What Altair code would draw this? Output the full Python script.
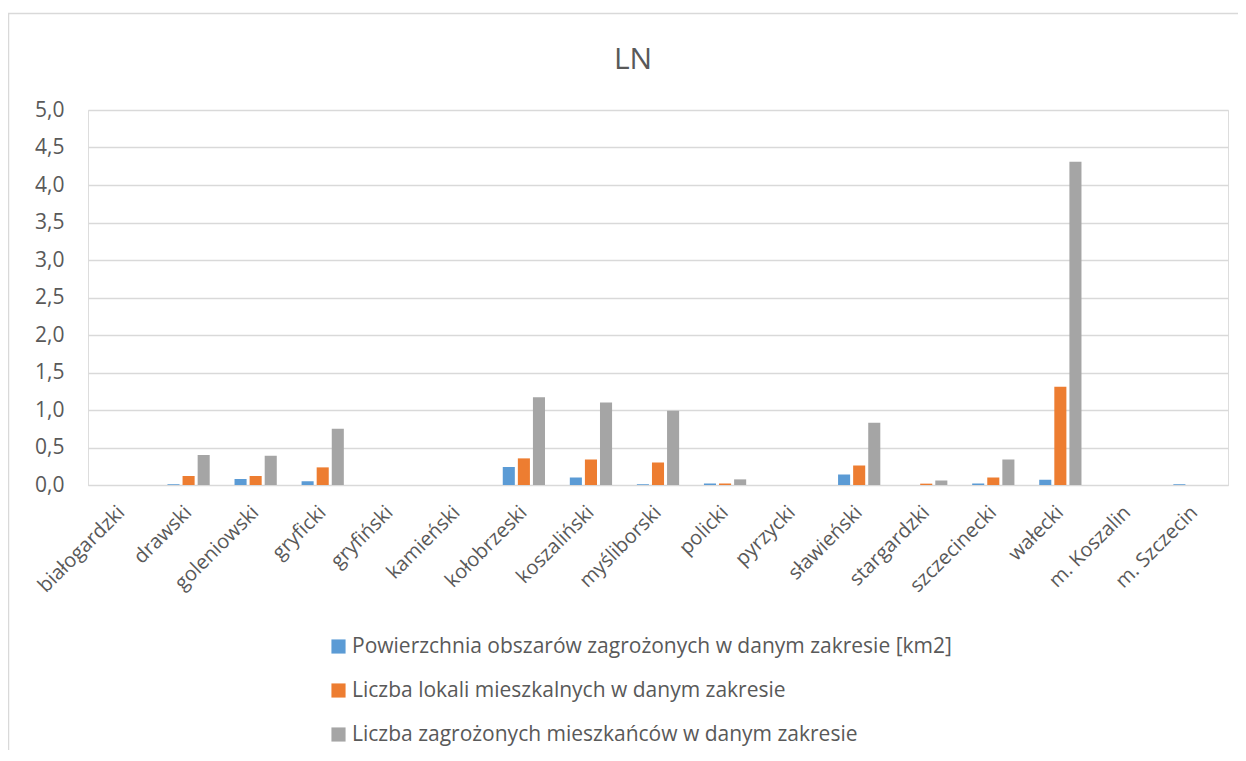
import altair as alt
import pandas as pd

categories = ["białogardzki", "drawski", "goleniowski", "gryficki", "gryfiński",
              "kamieński", "kołobrzeski", "koszaliński", "myśliborski", "policki",
              "pyrzycki", "sławieński", "stargardzki", "szczecinecki", "wałecki",
              "m. Koszalin", "m. Szczecin"]

series_names = ["Powierzchnia obszarów zagrożonych w danym zakresie [km2]",
                "Liczba lokali mieszkalnych w danym zakresie",
                "Liczba zagrożonych mieszkańców w danym zakresie"]

powierzchnia = [0.0, 0.01, 0.08, 0.05, 0.0, 0.0, 0.24, 0.10, 0.01, 0.02, 0.0, 0.14, 0.0, 0.02, 0.07, 0.0, 0.01]
lokale = [0.0, 0.12, 0.12, 0.235, 0.0, 0.0, 0.355, 0.34, 0.30, 0.02, 0.0, 0.26, 0.018, 0.10, 1.31, 0.0, 0.0]
mieszkancy = [0.0, 0.40, 0.39, 0.75, 0.0, 0.0, 1.17, 1.10, 0.99, 0.075, 0.0, 0.83, 0.06, 0.34, 4.31, 0.0, 0.0]

colors = ["#5B9BD5", "#ED7D31", "#A5A5A5"]

rows = []
for s, vals in zip(series_names, [powierzchnia, lokale, mieszkancy]):
    for c, v in zip(categories, vals):
        rows.append({"kategoria": c, "seria": s, "wartosc": v})
df = pd.DataFrame(rows)

FONT = "Open Sans"
GREY = "#595959"

bars = alt.Chart(df).mark_bar().encode(
    x=alt.X("kategoria:N", sort=categories, title=None,
            scale=alt.Scale(paddingInner=0.37, paddingOuter=0.185),
            axis=alt.Axis(labelAngle=-45, labelAlign="right", labelBaseline="middle",
                          labelPadding=24, ticks=False, domain=True,
                          domainColor="#d9d9d9", labelFontSize=20,
                          labelColor=GREY, labelFont=FONT, grid=False)),
    xOffset=alt.XOffset("seria:N", sort=series_names,
                        scale=alt.Scale(paddingInner=0.2, paddingOuter=0)),
    y=alt.Y("wartosc:Q", title=None,
            scale=alt.Scale(domain=[0, 5], nice=False),
            axis=alt.Axis(values=[0, 0.5, 1, 1.5, 2, 2.5, 3, 3.5, 4, 4.5, 5],
                          labelExpr="replace(format(datum.value, '.1f'), '.', ',')",
                          ticks=False, domain=False, grid=True,
                          gridColor="#d9d9d9", gridWidth=1.3,
                          labelFontSize=21, labelColor=GREY, labelFont=FONT,
                          labelPadding=24)),
    color=alt.Color("seria:N", sort=series_names,
                    scale=alt.Scale(domain=series_names, range=colors),
                    legend=alt.Legend(title=None, orient="none", direction="vertical",
                                      legendX=240, legendY=526,
                                      symbolType="square", symbolSize=200,
                                      symbolStrokeWidth=0, rowPadding=22,
                                      labelFontSize=21, labelColor=GREY,
                                      labelFont=FONT, labelOffset=3, labelLimit=900)),
)

border = alt.Chart(pd.DataFrame({"a": [0]})).mark_rect(
    fill=None, stroke="#d9d9d9", strokeWidth=1.5, clip=False
).encode(
    x=alt.value(-79.5), x2=alt.value(1180),
    y=alt.value(-96.5), y2=alt.value(700),
)

chart = alt.layer(border, bars).properties(
    width=1140, height=375,
    title=alt.TitleParams("LN", fontSize=30, font=FONT, color=GREY,
                          fontWeight="normal", offset=-62, dx=-25, anchor="middle",
                          frame="group"),
    autosize=alt.AutoSizeParams(type="none"),
    padding={"left": 80, "top": 102, "right": 10, "bottom": 265},
).configure_view(stroke=None).configure(background="white")

chart.save("out.html", embed_options={"renderer": "svg", "actions": False})
